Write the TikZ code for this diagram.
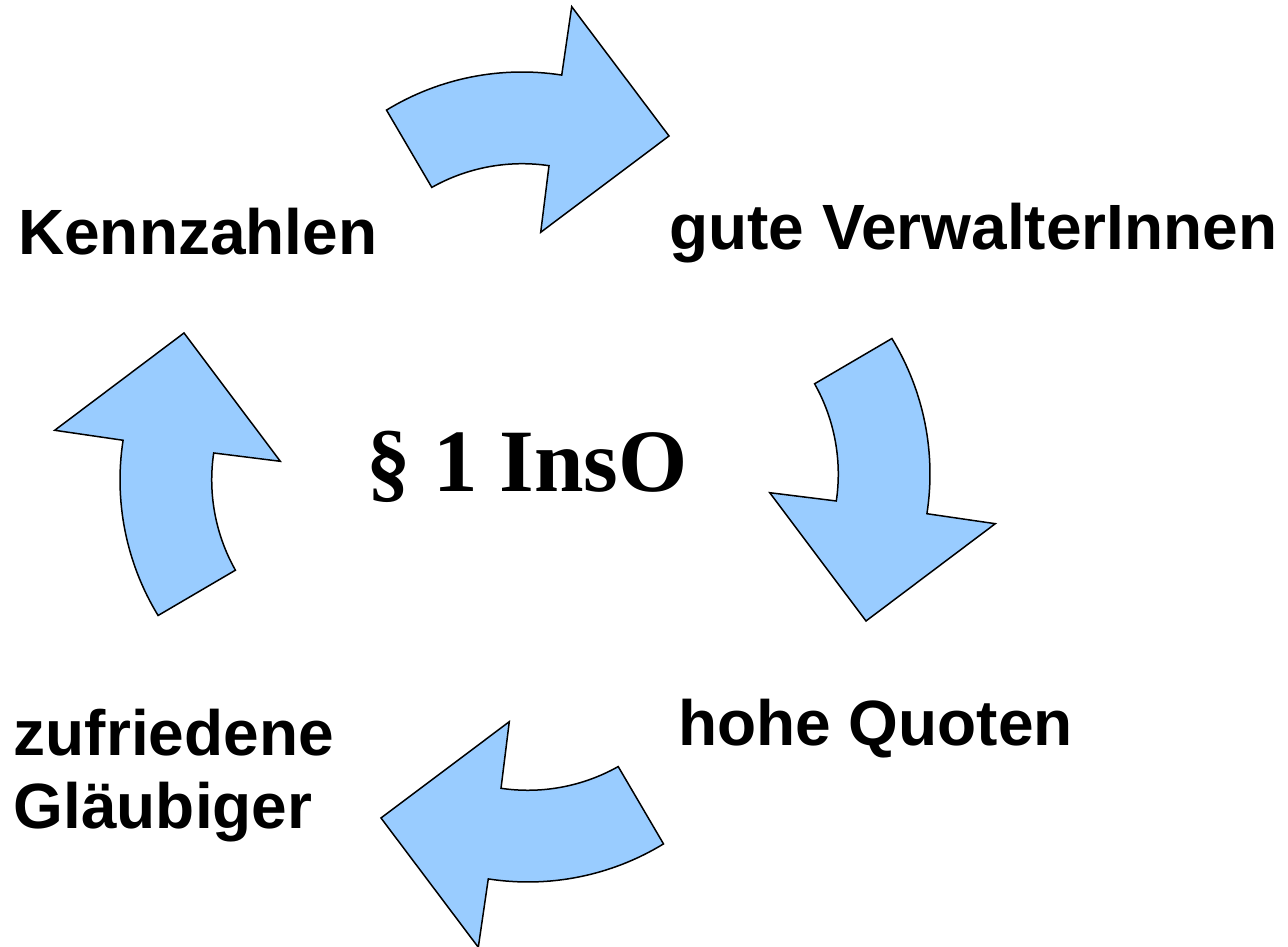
\documentclass[tikz,border=0pt]{standalone}
\usepackage{fontspec}
\setmainfont{Liberation Serif}
\newfontfamily\labelfont{Liberation Sans}
\begin{document}
\begin{tikzpicture}[x=1pt,y=1pt,
  cyclefill/.style={fill={rgb,255:red,153;green,204;blue,255}, draw=black, line width=1.5pt, line join=miter},
  steplabel/.style={inner sep=0pt, anchor=base west, font=\labelfont\bfseries\fontsize{64}{73}\selectfont, align=left},
  centrelabel/.style={inner sep=0pt, anchor=base, font=\bfseries\fontsize{89}{92}\selectfont},
  cyclearrow/.pic={
    \path[cyclefill] (-138.5,366.9) arc[start angle=121.4, end angle=81.2, radius=260pt]
      -- (46.7,470.3) -- (144,341) -- (15.7,244.7) -- (24,311.3)
      arc[start angle=81.6, end angle=119.4, radius=184pt] -- cycle;
  }]
\useasboundingbox (0,0) rectangle (1288,947);
\coordinate (ctr) at (525,470);

% four curved arrows forming the cycle
\pic (arrTop)    at (ctr) {cyclearrow};
\pic[rotate=-90] (arrRight)  at (ctr) {cyclearrow};
\pic[rotate=-180] (arrBottom) at (ctr) {cyclearrow};
\pic[rotate=-270] (arrLeft)   at (ctr) {cyclearrow};

% labels
\node[steplabel] (kenn) at (18,692) {Kennzahlen};
\node[steplabel] (verw) at (669,697) {gute VerwalterInnen};
\node[steplabel] (quot) at (678,201) {hohe Quoten};
\node[steplabel] (glaeub1) at (13.5,191) {zufriedene};
\node[steplabel] (glaeub2) at (13.5,118) {Gläubiger};
\node[centrelabel] (inso) at (527,455) {§ 1 InsO};
\end{tikzpicture}
\end{document}
